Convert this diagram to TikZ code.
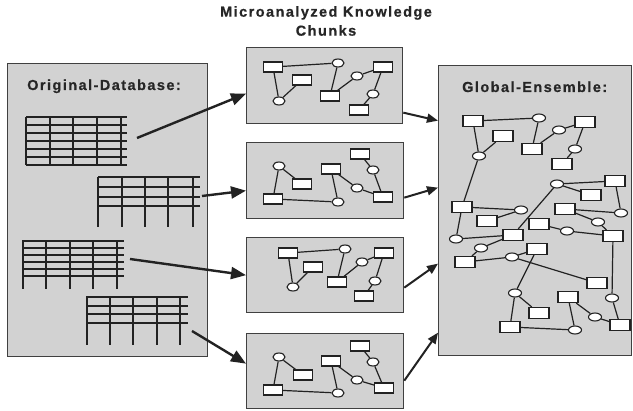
\documentclass[tikz,border=0pt]{standalone}
\usepackage{fontspec}
\newfontfamily\labfont[LetterSpace=10, FakeBold=0.6]{Liberation Sans Bold}
\usetikzlibrary{shapes.geometric,arrows.meta}
\definecolor{boxfill}{HTML}{D2D2D2}
\definecolor{ink}{HTML}{222222}
\tikzset{
  bigbox/.style={draw=black!75, line width=1.3pt, fill=boxfill, anchor=north west, inner sep=0pt},
  rn/.style={draw=ink, line width=1.1pt, fill=white, rectangle, minimum width=19pt, minimum height=10pt, inner sep=0pt},
  en/.style={draw=ink, line width=1.1pt, fill=white, ellipse, minimum width=12pt, minimum height=8pt, inner sep=0pt},
  grn/.style={rn, minimum width=20pt, minimum height=11pt},
  gen/.style={en, minimum width=13pt, minimum height=8pt},
  edge/.style={draw=ink, line width=1.2pt},
  tab/.style={draw=ink, line width=1.8pt},
  bigarrow/.style={draw=ink, line width=2.4pt, -{Triangle[length=15pt,width=12pt]}},
  smallarrow/.style={draw=ink, line width=2pt, -{Triangle[length=11pt,width=9pt]}},
  lab/.style={font=\labfont\fontsize{14.5pt}{19pt}\selectfont, text=black!85, inner sep=0pt}
}
\begin{document}
\begin{tikzpicture}[x=1pt,y=-1pt]
\useasboundingbox (0,0) rectangle (633,411);

% title
\node[lab, align=center] (title) at (326,21) {Microanalyzed Knowledge\\Chunks};

% boxes
\node[bigbox, minimum width=200pt, minimum height=293pt] (db) at (7,63) {};
\node[bigbox, minimum width=156pt, minimum height=76pt] (m1) at (246,47) {};
\node[bigbox, minimum width=157pt, minimum height=76pt] (m2) at (246,142) {};
\node[bigbox, minimum width=157pt, minimum height=75pt] (m3) at (246,237) {};
\node[bigbox, minimum width=157pt, minimum height=75pt] (m4) at (246,333) {};
\node[bigbox, minimum width=193pt, minimum height=290pt] (ge) at (438,65) {};

\node[lab, anchor=base west] (dblab) at (27,90) {Original-Database:};
\node[lab, anchor=base west] (gelab) at (462,92) {Global-Ensemble:};

% tables
\foreach \y in {117,125,133,141,149,157,165} \draw[tab] (26,\y) -- (127,\y);
\foreach \x in {26,50,73,97,121} \draw[tab] (\x,117) -- (\x,165);

\foreach \y in {177,187,197,206} \draw[tab] (98,\y) -- (200,\y);
\foreach \x in {98,122,145,168,193} \draw[tab] (\x,177) -- (\x,227);

\foreach \y in {241,248,255,262,269,276} \draw[tab] (22,\y) -- (124,\y);
\foreach \x in {23,46,70,93,117} \draw[tab] (\x,241) -- (\x,289);

\foreach \y in {297,306,314,323} \draw[tab] (86,\y) -- (188,\y);
\foreach \x in {87,110,133,157,180} \draw[tab] (\x,297) -- (\x,345);

% arrows left -> middle
\coordinate (s1) at (137,138);
\coordinate (s2) at (202,196);
\coordinate (s3) at (130,259);
\coordinate (s4) at (192,331);
\draw[bigarrow] (s1) -- ([yshift=-8pt]m1.west);
\draw[bigarrow] (s2) -- ([yshift=-10pt]m2.west);
\draw[bigarrow] (s3) -- (m3.west);
\draw[bigarrow] (s4) -- ([yshift=7.5pt]m4.west);

% arrows middle -> right
\draw[smallarrow] ([yshift=-27pt]m1.east) -- ([yshift=90pt]ge.west);
\draw[smallarrow] ([yshift=-17pt]m2.east) -- ([yshift=23pt]ge.west);
\draw[smallarrow] ([yshift=-12.5pt]m3.east) -- ([yshift=-53pt]ge.west);
\draw[smallarrow] ([yshift=-9.5pt]m4.east) -- ([yshift=-122pt]ge.west);

% chunk 1
\node[rn] (aA) at (273,67) {};
\node[en] (aB) at (338,63) {};
\node[rn] (aC) at (302,80) {};
\node[en] (aD) at (279,101) {};
\node[rn] (aE) at (330,96) {};
\node[en] (aF) at (357,76) {};
\node[rn] (aG) at (383,67) {};
\node[en] (aH) at (373,94) {};
\node[rn] (aI) at (359,110) {};
\draw[edge] (aA)--(aB) (aA)--(aD) (aD)--(aC) (aB)--(aE) (aE)--(aF) (aF)--(aG) (aG)--(aH) (aH)--(aI);

% chunk 2
\node[en] (ba) at (279,166) {};
\node[rn] (bb) at (302,184) {};
\node[rn] (bc) at (273,199) {};
\node[en] (bd) at (338,202) {};
\node[rn] (be) at (331,169) {};
\node[en] (bf) at (357,188) {};
\node[rn] (bg) at (383,197) {};
\node[en] (bh) at (373,170) {};
\node[rn] (bi) at (360,154) {};
\draw[edge] (ba)--(bb) (ba)--(bc) (bc)--(bd) (bd)--(be) (be)--(bf) (bf)--(bg) (bg)--(bh) (bh)--(bi);

% chunk 3
\node[rn] (cA) at (288,253) {};
\node[en] (cB) at (345,249) {};
\node[rn] (cC) at (313,267) {};
\node[en] (cD) at (293,287) {};
\node[rn] (cE) at (337,282) {};
\node[en] (cF) at (362,262) {};
\node[rn] (cG) at (384,253) {};
\node[en] (cH) at (375,281) {};
\node[rn] (cI) at (364,296) {};
\draw[edge] (cA)--(cB) (cA)--(cD) (cD)--(cC) (cB)--(cE) (cE)--(cF) (cF)--(cG) (cG)--(cH) (cH)--(cI);

% chunk 4
\node[en] (da) at (279,357) {};
\node[rn] (db2) at (303,375) {};
\node[rn] (dc) at (273,390) {};
\node[en] (dd) at (338,393) {};
\node[rn] (de) at (331,361) {};
\node[en] (df) at (357,380) {};
\node[rn] (dg) at (384,388) {};
\node[en] (dh) at (373,362) {};
\node[rn] (di) at (360,346) {};
\draw[edge] (da)--(db2) (da)--(dc) (dc)--(dd) (dd)--(de) (de)--(df) (df)--(dg) (dg)--(dh) (dh)--(di);

% global ensemble
\node[grn] (R1) at (473,121) {};
\node[gen] (E1) at (539,118) {};
\node[grn] (R2) at (503,136) {};
\node[gen] (E2) at (479,156) {};
\node[grn] (R3) at (532,149) {};
\node[gen] (E3) at (559,130) {};
\node[grn] (R4) at (585,122) {};
\node[gen] (E4) at (575,149) {};
\node[grn] (R5) at (562,164) {};
\node[gen] (E5) at (557,184) {};
\node[grn] (R6) at (615,181) {};
\node[grn] (R7) at (591,195) {};
\node[grn] (R8) at (462,207) {};
\node[gen] (E6) at (521,210) {};
\node[grn] (R9) at (565,209) {};
\node[gen] (E7) at (621,213) {};
\node[grn] (R10) at (487,221) {};
\node[gen] (E8) at (598,222) {};
\node[grn] (R11) at (539,224) {};
\node[gen] (E9) at (567,231) {};
\node[grn] (R12) at (513,235) {};
\node[grn] (R13) at (613,236) {};
\node[gen] (E10) at (456,239) {};
\node[gen] (E11) at (481,248) {};
\node[grn] (R14) at (537,249) {};
\node[gen] (E12) at (512,257) {};
\node[grn] (R15) at (465,262) {};
\node[grn] (R16) at (597,283) {};
\node[gen] (E13) at (515,293) {};
\node[grn] (R17) at (568,297) {};
\node[gen] (E14) at (612,298) {};
\node[grn] (R19) at (539,313) {};
\node[gen] (E15) at (595,317) {};
\node[grn] (R18) at (620,325) {};
\node[grn] (R20) at (510,327) {};
\node[gen] (E16) at (575,330) {};
\draw[edge] (R1)--(E1) (R1)--(E2) (E2)--(R2) (E1)--(R3) (R3)--(E3) (E3)--(R4) (R4)--(E4) (E4)--(R5)
  (E2)--(R8) (R8)--(E6) (E6)--(R10) (R8)--(E10) (E10)--(R12) (R12)--(E5) (E5)--(R6) (E5)--(R7)
  (R6)--(E7) (R9)--(E7) (R9)--(E8) (E8)--(R13) (R11)--(E9) (E9)--(R13) (R13)--(E14)
  (R12)--(E11) (E11)--(R15) (R15)--(E12) (E12)--(R14) (E12)--(R16) (R14)--(E13) (E13)--(R19)
  (E13)--(R20) (R20)--(E16) (E16)--(R17) (R17)--(E15) (E15)--(R18) (R18)--(E14);
\end{tikzpicture}
\end{document}
